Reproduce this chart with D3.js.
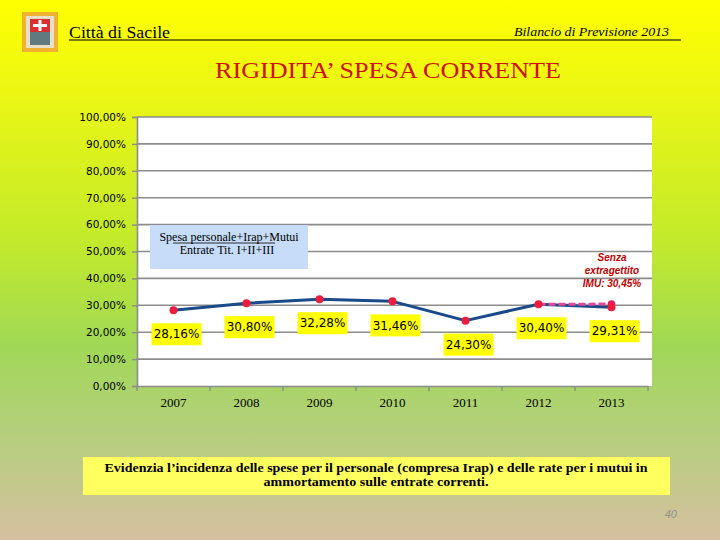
<!DOCTYPE html>
<html><head><meta charset="utf-8">
<script src="https://cdn.jsdelivr.net/npm/d3@7/dist/d3.min.js"></script>
<style>html,body{margin:0;padding:0;overflow:hidden}</style>
</head><body>
<script>
const years = ["2007","2008","2009","2010","2011","2012","2013"];
const rigidita = [28.16, 30.80, 32.28, 31.46, 24.30, 30.40, 29.31];
const senzaYears = ["2012","2013"];
const senzaImu = [30.40, 30.45];
const yTicks = [0,10,20,30,40,50,60,70,80,90,100];
const noteLines = ["Evidenzia l\u2019incidenza delle spese per il personale (compresa Irap) e delle rate per i mutui in","ammortamento sulle entrate correnti."];

(function(){
const W = 720, H = 540;
const SERIF = "'Liberation Serif', 'Times New Roman', 'DejaVu Serif', serif";
const svg = d3.select("body").append("svg").attr("width", W).attr("height", H);
const defs = svg.append("defs");
const g = defs.append("linearGradient").attr("id","bg").attr("x1",0).attr("y1",0).attr("x2",0).attr("y2",1);
[[0,"#ffff00"],[0.18,"#eaf614"],[0.45,"#c2ea2c"],[0.64,"#a0d856"],[0.8,"#b4cf7c"],[1,"#d6c0a0"]].forEach(s=>g.append("stop").attr("offset",s[0]).attr("stop-color",s[1]));
svg.append("rect").attr("width",W).attr("height",H).attr("fill","url(#bg)");

// logo
const logo = svg.append("g").attr("transform","translate(22,12)");
logo.append("rect").attr("width",36).attr("height",40).attr("fill","#f0b030");
logo.append("rect").attr("x",4).attr("y",4).attr("width",28).attr("height",32).attr("fill","#e8e0c8");
logo.append("rect").attr("x",8).attr("y",7).attr("width",20).attr("height",13).attr("fill","#d83030");
logo.append("rect").attr("x",16.5).attr("y",8).attr("width",3).attr("height",11).attr("fill","#fff");
logo.append("rect").attr("x",11).attr("y",12).attr("width",14).attr("height",3).attr("fill","#fff");
logo.append("rect").attr("x",8).attr("y",20).attr("width",20).attr("height",13).attr("fill","#607a80");

// header
svg.append("text").attr("x",69).attr("y",38).attr("font-family",SERIF).attr("font-size",16).attr("textLength",101).attr("lengthAdjust","spacingAndGlyphs").attr("fill","#000").text("Città di Sacile");
svg.append("text").attr("x",669).attr("y",36).attr("text-anchor","end").attr("font-family",SERIF).attr("font-style","italic").attr("font-size",13.5).attr("textLength",155).attr("lengthAdjust","spacingAndGlyphs").attr("fill","#000").text("Bilancio di Previsione 2013");
svg.append("line").attr("x1",69).attr("x2",681).attr("y1",40).attr("y2",40).attr("stroke","#000").attr("stroke-width",1);
svg.append("text").attr("x",388).attr("y",78).attr("text-anchor","middle").attr("font-family",SERIF).attr("font-size",23).attr("textLength",346).attr("lengthAdjust","spacingAndGlyphs").attr("fill","#d01010").text("RIGIDITA\u2019 SPESA CORRENTE");

// plot
const pL = 137, pR = 648, pT = 117, pB = 386;
svg.append("rect").attr("x",pL).attr("y",pT).attr("width",pR-pL+4).attr("height",pB-pT).attr("fill","#fff");
const x = d3.scaleBand().domain(years).range([pL,pR]);
const y = d3.scaleLinear().domain([0,100]).range([pB,pT]);
const fmt = v => d3.format(".2f")(v).replace(".",",") + "%";

svg.append("g").selectAll("line").data(yTicks.filter(t=>t>0)).join("line")
  .attr("x1",pL).attr("x2",pR+4).attr("y1",d=>y(d)).attr("y2",d=>y(d))
  .attr("stroke","#8c8c8c").attr("stroke-width",1.6);

const ya = svg.append("g").attr("transform",`translate(${pL},0)`)
  .call(d3.axisLeft(y).tickValues(yTicks).tickSize(5).tickPadding(5).tickFormat(fmt));
ya.select(".domain").attr("stroke","#8c8c8c").attr("stroke-width",1.6);
ya.selectAll(".tick line").attr("stroke","#8c8c8c").attr("stroke-width",1.4);
ya.selectAll("text").attr("font-family","DejaVu Sans").attr("font-size",10.5).attr("fill","#000").attr("dx",-1);

const xa = svg.append("g").attr("transform",`translate(0,${pB})`)
  .call(d3.axisBottom(x).tickSize(0).tickPadding(12));
xa.select(".domain").attr("stroke","#8c8c8c").attr("stroke-width",1.6);
xa.selectAll("text").attr("font-family",SERIF).attr("font-size",13).attr("fill","#000");
svg.append("g").selectAll("line").data(years.concat(["end"])).join("line")
  .attr("x1",(d,i)=>pL+i*x.bandwidth()).attr("x2",(d,i)=>pL+i*x.bandwidth())
  .attr("y1",pB).attr("y2",pB+5).attr("stroke","#8c8c8c").attr("stroke-width",1.4);

const cx = d => x(d)+x.bandwidth()/2;

// main line
svg.append("path").datum(years.map((yr,i)=>[cx(yr),y(rigidita[i])]))
  .attr("d",d3.line()).attr("fill","none").attr("stroke","#1a4a8a").attr("stroke-width",3).attr("stroke-linejoin","round");

// dashed series (on top)
svg.append("path").datum(senzaYears.map((yr,i)=>[cx(yr),y(senzaImu[i])]))
  .attr("d",d3.line()).attr("fill","none").attr("stroke","#e4489a").attr("stroke-width",3).attr("stroke-dasharray","7,3");
svg.append("g").selectAll("circle").data(senzaYears.slice(1)).join("circle")
  .attr("cx",d=>cx(d)).attr("cy",d=>y(senzaImu[senzaYears.indexOf(d)])).attr("r",3.8).attr("fill","#e01e5a");

svg.append("g").selectAll("circle").data(years).join("circle")
  .attr("cx",d=>cx(d)).attr("cy",(d,i)=>y(rigidita[i])).attr("r",4).attr("fill","#ee1c3c");

// data labels
const lbl = svg.append("g").selectAll("g").data(years).join("g")
  .attr("transform",(d,i)=>`translate(${cx(d)+3},${y(rigidita[i])+24})`);
lbl.append("rect").attr("x",-25).attr("y",-11).attr("width",50).attr("height",22).attr("fill","#ffff00");
lbl.append("text").attr("text-anchor","middle").attr("dy","0.35em").attr("font-family","DejaVu Sans").attr("font-size",12).attr("fill","#000").text((d,i)=>fmt(rigidita[i]));

// legend box
svg.append("rect").attr("x",150).attr("y",225).attr("width",158).attr("height",44).attr("fill","#c6dcf8");
svg.append("text").attr("x",229).attr("y",241).attr("text-anchor","middle").attr("font-family",SERIF).attr("font-size",12).attr("fill","#000").text("Spesa personale+Irap+Mutui");
svg.append("line").attr("x1",173).attr("x2",275).attr("y1",243).attr("y2",243).attr("stroke","#000").attr("stroke-width",0.8);
svg.append("text").attr("x",227).attr("y",254).attr("text-anchor","middle").attr("font-family",SERIF).attr("font-size",12).attr("fill","#000").text("Entrate  Tit. I+II+III");

// annotation
const ann = svg.append("text").attr("text-anchor","middle").attr("font-family","'Liberation Sans', Arial, sans-serif").attr("font-style","italic").attr("font-weight","bold").attr("font-size",10).attr("fill","#c00000");
["Senza","extragettito",`IMU: ${fmt(senzaImu[1])}`].forEach((t,i)=>ann.append("tspan").attr("x",612).attr("y",261+i*13).text(t));

// bottom note
svg.append("rect").attr("x",83).attr("y",457).attr("width",587).attr("height",38).attr("fill","#ffff60");
noteLines.forEach((t,i)=>{
  svg.append("text").attr("x",376).attr("y",472+i*14).attr("text-anchor","middle")
  .attr("font-family",SERIF).attr("font-weight","bold").attr("font-size",13.5).attr("fill","#000")
  .attr("textLength",i===0?543:225).attr("lengthAdjust","spacingAndGlyphs").text(t);
});

svg.append("text").attr("x",677).attr("y",518).attr("text-anchor","end").attr("font-family","'Liberation Sans', Arial, sans-serif").attr("font-style","italic").attr("font-size",11).attr("fill","#909090").text("40");
})();
</script>
</body></html>
